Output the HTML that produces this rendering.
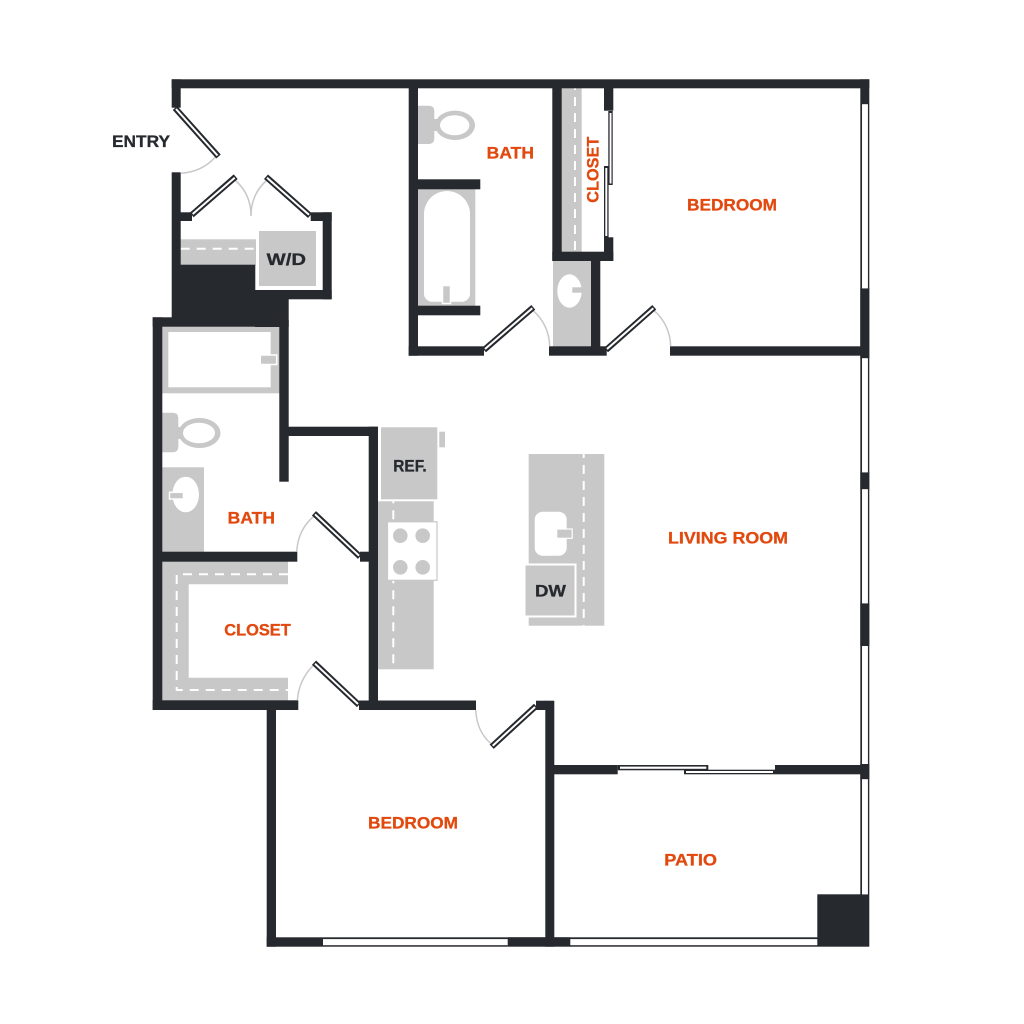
<!DOCTYPE html>
<html>
<head>
<meta charset="utf-8">
<style>
html,body{margin:0;padding:0;background:#fff;width:1024px;height:1024px;overflow:hidden}
svg{display:block}
text{font-family:"Liberation Sans",sans-serif;font-weight:700;font-size:16.5px;stroke-width:.3px}
.o{fill:#E2490F;stroke:#E2490F}
.d{fill:#26292E;stroke:#26292E}
.g{fill:#C8C8C8}
.w{fill:#26292E}
.dash{fill:none;stroke:#fff;stroke-width:2;stroke-dasharray:9 7}
.arc{fill:none;stroke:#C8C8C8;stroke-width:1.5}
.l1{stroke:#26292E;stroke-width:6}
.l2{stroke:#fff;stroke-width:2}
</style>
</head>
<body>
<svg width="1024" height="1024" viewBox="0 0 1024 1024" xmlns="http://www.w3.org/2000/svg">
<rect width="1024" height="1024" fill="#fff"/>

<!-- fixtures: grey -->
<!-- laundry shelf -->
<rect class="g" x="180" y="239.3" width="76" height="26"/>
<line class="dash" x1="180.7" y1="248.7" x2="256" y2="248.7"/>
<rect class="g" x="259" y="231" width="57" height="55" stroke="#fff" stroke-width="0"/>
<!-- top bath toilet -->
<rect class="g" x="414" y="105.7" width="20.3" height="38.3" rx="5"/>
<rect class="g" x="433" y="119" width="6" height="12"/>
<ellipse cx="455" cy="125.3" rx="20" ry="14.7" class="g"/>
<ellipse cx="454.7" cy="125.3" rx="14.7" ry="10" fill="#fff"/>
<!-- tub -->
<rect class="g" x="418" y="188" width="57.3" height="118"/>
<path d="M424 214 a23 23 0 0 1 46 0 V293.7 a8 8 0 0 1 -8 8 H432 a8 8 0 0 1 -8 -8 Z" fill="#fff"/>
<rect class="g" x="442.5" y="285.5" width="8" height="18" stroke="#fff" stroke-width="1.5"/>
<!-- closet top -->
<rect class="g" x="561" y="88" width="20.7" height="164"/>
<line class="dash" x1="575" y1="88" x2="575" y2="252" stroke-dashoffset="7"/>
<!-- vanity top -->
<rect class="g" x="553" y="260" width="38" height="87"/>
<ellipse cx="569.5" cy="291" rx="12.2" ry="16.7" fill="#fff"/>
<rect class="g" x="572.3" y="287.3" width="13" height="5.4"/>
<!-- shower -->
<rect class="g" x="162" y="326" width="118" height="67.3"/>
<rect x="168.3" y="332" width="102.4" height="55.3" fill="#fff"/>
<rect class="g" x="260.3" y="355" width="16.4" height="9.5" stroke="#fff" stroke-width="1.5"/>
<!-- left bath toilet -->
<rect class="g" x="158" y="412.7" width="20.3" height="39.6" rx="5"/>
<rect class="g" x="177" y="427" width="6" height="12"/>
<ellipse cx="199.5" cy="433" rx="21" ry="15" class="g"/>
<ellipse cx="199" cy="433" rx="16" ry="10.3" fill="#fff"/>
<!-- left vanity -->
<rect class="g" x="162" y="467.3" width="42" height="85"/>
<ellipse cx="185.7" cy="494.5" rx="13.3" ry="17.8" fill="#fff"/>
<rect class="g" x="169.5" y="492.3" width="14" height="6.7" stroke="#fff" stroke-width="1.5"/>
<!-- closet left -->
<path class="g" d="M162 561 H288 V584.3 H188.7 V677.7 H288 V701 H162 Z"/>
<path class="dash" d="M288 574.3 H176.7 V690 H288"/>
<!-- kitchen -->
<rect class="g" x="378" y="501.3" width="55.7" height="168"/>
<line class="dash" x1="393.3" y1="501.3" x2="393.3" y2="669.3" stroke-dashoffset="7"/>
<rect class="g" x="381" y="427.3" width="56.3" height="72"/>
<rect class="g" x="439.3" y="431.7" width="5.7" height="15.6"/>
<rect x="387.5" y="521.8" width="49.5" height="58.5" fill="#fff" stroke="#C8C8C8" stroke-width="1.2"/>
<circle class="g" cx="400.3" cy="535.7" r="7.3"/>
<circle class="g" cx="422.7" cy="535.7" r="7.3"/>
<circle class="g" cx="400.3" cy="567.3" r="7.3"/>
<circle class="g" cx="422.7" cy="567.3" r="7.3"/>
<!-- island -->
<rect class="g" x="528.7" y="454" width="75.6" height="171.7"/>
<line class="dash" x1="583.7" y1="454" x2="583.7" y2="625.7" stroke-dashoffset="5"/>
<rect x="534.7" y="511.7" width="32" height="44" rx="8" fill="#fff"/>
<rect class="g" x="556.7" y="529" width="15.5" height="9.3" stroke="#fff" stroke-width="1.2"/>
<rect class="g" x="524.5" y="564.5" width="51" height="52" stroke="#fff" stroke-width="2"/>

<!-- walls -->
<g class="w">
<!-- top and entry -->
<rect x="171.7" y="79.3" width="697.6" height="9"/>
<rect x="171.7" y="79.3" width="9" height="28.4"/>
<rect x="171.7" y="172.3" width="9" height="150"/>
<rect x="180" y="212.3" width="12" height="8.7"/>
<rect x="310.7" y="212.3" width="21" height="8.7"/>
<rect x="322.7" y="212.3" width="9" height="87"/>
<rect x="255.3" y="290" width="76.4" height="9.3"/>
<rect x="180" y="264.7" width="75.3" height="56"/>
<rect x="255" y="290" width="33.7" height="37"/>
<!-- left bath -->
<rect x="152.7" y="317.3" width="135" height="9.4"/>
<rect x="152.7" y="317.3" width="9.6" height="392.7"/>
<rect x="279.3" y="320" width="9.4" height="161.7"/>
<rect x="288" y="426.7" width="90" height="9.3"/>
<rect x="368.7" y="426.7" width="9.3" height="283.3"/>
<rect x="162" y="551.7" width="135.3" height="10"/>
<rect x="360" y="551.7" width="9" height="10"/>
<rect x="152.7" y="700.3" width="145.6" height="9.7"/>
<rect x="359" y="700.5" width="117" height="9.5"/>
<rect x="266.7" y="708" width="9.3" height="238.7"/>
<!-- top bath -->
<rect x="408.7" y="88" width="9.3" height="267.7"/>
<rect x="408.7" y="346.3" width="75.3" height="9.4"/>
<rect x="418" y="179.3" width="62.3" height="10"/>
<rect x="418" y="305.7" width="62.3" height="9.6"/>
<!-- top closet -->
<rect x="552.3" y="88" width="9.4" height="173"/>
<rect x="552.3" y="251.7" width="61" height="9.3"/>
<rect x="604" y="88" width="9.3" height="22.7"/>
<rect x="604" y="237.3" width="9.3" height="23.7"/>
<rect x="591" y="260" width="9.3" height="88"/>
<rect x="549" y="346.3" width="57.7" height="9.4"/>
<rect x="670" y="346.3" width="198" height="9.4"/>
<!-- right wall solids -->
<rect x="860.3" y="79.3" width="9" height="25"/>
<rect x="860.3" y="288.3" width="9" height="70"/>
<rect x="860.3" y="472.3" width="9" height="17"/>
<rect x="860.3" y="603.3" width="9" height="42.7"/>
<rect x="860.3" y="764" width="9" height="15.3"/>
<rect x="817.3" y="894.3" width="52" height="52.4"/>
<!-- right wall windows -->
<rect x="860.3" y="104" width="1.8" height="790.5"/>
<rect x="867.8" y="104" width="1.5" height="790.5"/>
<!-- lower walls -->
<rect x="545.3" y="700.7" width="9" height="246"/>
<rect x="536" y="700.7" width="10" height="9.3"/>
<rect x="554" y="765" width="63.7" height="9.3"/>
<rect x="775" y="765" width="86" height="9.3"/>
<!-- bottom -->
<rect x="266.7" y="937.3" width="56.3" height="9.4"/>
<rect x="507.7" y="937.3" width="62.6" height="9.4"/>
<rect x="323" y="937.3" width="494.5" height="1.8"/>
<rect x="323" y="945.2" width="184.7" height="1.5"/>
<rect x="570" y="945.2" width="247.5" height="1.5"/>
<!-- sliding patio doors -->
<rect x="617.7" y="765" width="90.6" height="5.3"/>
<rect x="684" y="769.7" width="91" height="4.6"/>
<!-- closet sliding doors -->
<rect x="608.3" y="111" width="4.4" height="74"/>
<rect x="604" y="166" width="4.6" height="72"/>
</g>
<rect x="620" y="766.6" width="86.3" height="2.2" fill="#fff"/>
<rect x="686" y="771" width="87" height="2" fill="#fff"/>
<rect x="609.6" y="113" width="1.9" height="70.5" fill="#fff"/>
<rect x="605.3" y="168" width="2" height="68" fill="#fff"/>

<!-- door swing arcs -->
<path class="arc" d="M180.7 173.3 Q202 172 215 157.3"/>
<path class="arc" d="M235 180 Q251 194 251 215.7"/>
<path class="arc" d="M267 180 Q251 194 251 215.7"/>
<path class="arc" d="M533.3 310.7 Q549 325 549.7 346.3"/>
<path class="arc" d="M654.3 310.7 Q670 325 670.7 346.3"/>
<path class="arc" d="M296.7 551.7 Q298 530 313.3 516.7"/>
<path class="arc" d="M297.3 700.3 Q299 680 312.7 666"/>
<path class="arc" d="M475.7 710 Q477 732 490.7 743.3"/>

<!-- door leaves -->
<line class="l1" x1="175" y1="108" x2="218.5" y2="156.5"/><line class="l2" x1="176" y1="109" x2="217.5" y2="155.5"/>
<line class="l1" x1="191.7" y1="215" x2="235.7" y2="176.7"/><line class="l2" x1="192.7" y1="214" x2="234.7" y2="177.7"/>
<line class="l1" x1="266" y1="176.7" x2="310" y2="215.7"/><line class="l2" x1="267" y1="177.7" x2="309" y2="214.7"/>
<line class="l1" x1="484" y1="350" x2="533.3" y2="307.3"/><line class="l2" x1="485" y1="349" x2="532.3" y2="308.3"/>
<line class="l1" x1="606" y1="350" x2="654.3" y2="307.3"/><line class="l2" x1="607" y1="349" x2="653.3" y2="308.3"/>
<line class="l1" x1="314" y1="513.3" x2="360" y2="556.7"/><line class="l2" x1="315" y1="514.3" x2="359" y2="555.7"/>
<line class="l1" x1="314" y1="662.7" x2="359" y2="705"/><line class="l2" x1="315" y1="663.7" x2="358" y2="704"/>
<line class="l1" x1="491.7" y1="746.7" x2="536" y2="706"/><line class="l2" x1="492.7" y1="745.7" x2="535" y2="707"/>

<!-- window whites -->
<rect x="862.1" y="104.3" width="5.7" height="184" fill="#fff"/>
<rect x="862.1" y="358.3" width="5.7" height="114" fill="#fff"/>
<rect x="862.1" y="489.3" width="5.7" height="114" fill="#fff"/>
<rect x="862.1" y="646" width="5.7" height="118" fill="#fff"/>
<rect x="862.1" y="779.3" width="5.7" height="115" fill="#fff"/>

<!-- labels -->
<text class="d" x="112" y="147" textLength="58" lengthAdjust="spacingAndGlyphs">ENTRY</text>
<text class="o" x="486.7" y="158.3" textLength="47.3" lengthAdjust="spacingAndGlyphs">BATH</text>
<text class="o" transform="translate(598.3 202.7) rotate(-90)" x="0" y="0" textLength="66" lengthAdjust="spacingAndGlyphs">CLOSET</text>
<text class="o" x="687" y="210.5" textLength="90" lengthAdjust="spacingAndGlyphs">BEDROOM</text>
<text class="o" x="668" y="543.5" textLength="120" lengthAdjust="spacingAndGlyphs">LIVING ROOM</text>
<text class="o" x="227.7" y="523.3" textLength="47.3" lengthAdjust="spacingAndGlyphs">BATH</text>
<text class="o" x="224.3" y="635.7" textLength="66.4" lengthAdjust="spacingAndGlyphs">CLOSET</text>
<text class="o" x="368" y="828.7" textLength="90" lengthAdjust="spacingAndGlyphs">BEDROOM</text>
<text class="o" x="664.3" y="865.5" textLength="52.7" lengthAdjust="spacingAndGlyphs">PATIO</text>
<text class="d" x="393.3" y="471.3" textLength="33.4" lengthAdjust="spacingAndGlyphs">REF.</text>
<text class="d" x="266.7" y="265" textLength="39.3" lengthAdjust="spacingAndGlyphs">W/D</text>
<text class="d" x="535" y="596.7" textLength="31" lengthAdjust="spacingAndGlyphs">DW</text>
</svg>
</body>
</html>
